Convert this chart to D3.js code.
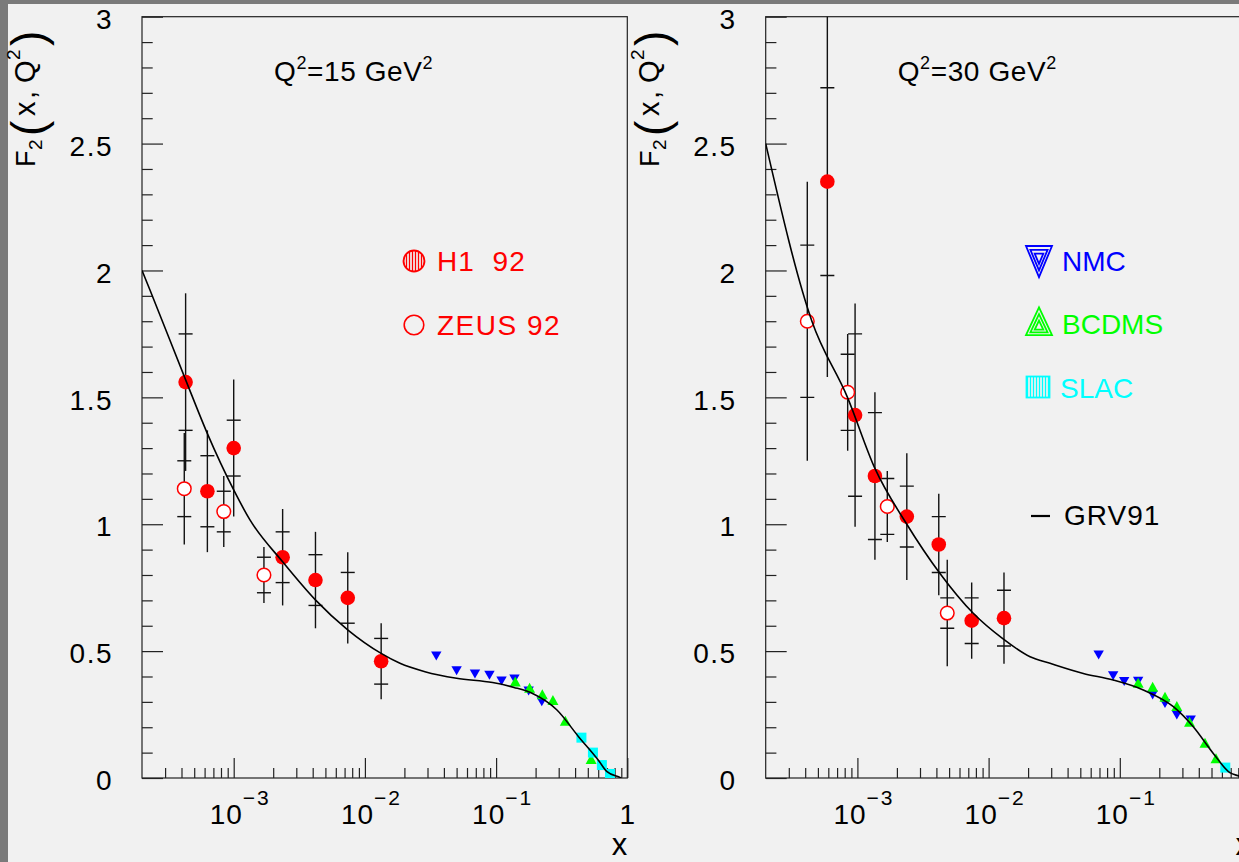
<!DOCTYPE html>
<html>
<head>
<meta charset="utf-8">
<script src="https://cdn.jsdelivr.net/npm/d3@7"></script>
<style>
  html, body { margin: 0; padding: 0; background: #7a7a7a; }
  svg { display: block; }
  text { font-family: "Liberation Sans", Arial, Helvetica, sans-serif; }
</style>
</head>
<body>
<svg id="chart" width="1239" height="862"></svg>
<script>
// ---------------- data ----------------
// Q^2 values of the two panels
const q2Values = ["15", "30"];

// H1 1992: x, F2, statistical error, total error
const h1X15    = [4.3e-4, 6.3e-4, 1.0e-3, 2.36e-3, 4.2e-3, 7.4e-3, 1.33e-2];
const h1F15    = [1.56, 1.13, 1.30, 0.87, 0.78, 0.71, 0.46];
const h1Stat15 = [0.19, 0.14, 0.11, 0.10, 0.10, 0.10, 0.09];
const h1Tot15  = [0.35, 0.24, 0.27, 0.19, 0.19, 0.18, 0.15];

const h1X30    = [5.9e-4, 9.6e-4, 1.36e-3, 2.38e-3, 4.17e-3, 7.43e-3, 1.31e-2];
const h1F30    = [2.35, 1.43, 1.19, 1.03, 0.92, 0.62, 0.63];
const h1Stat30 = [0.37, 0.32, 0.25, 0.12, 0.11, 0.09, 0.11];
const h1Tot30  = [0.77, 0.44, 0.33, 0.25, 0.20, 0.15, 0.18];

// ZEUS 1992
const zeusX15    = [4.2e-4, 8.4e-4, 1.7e-3];
const zeusF15    = [1.14, 1.05, 0.80];
const zeusStat15 = [0.11, 0.08, 0.07];
const zeusTot15  = [0.22, 0.14, 0.11];

const zeusX30    = [4.15e-4, 8.43e-4, 1.69e-3, 4.84e-3];
const zeusF30    = [1.80, 1.52, 1.07, 0.65];
const zeusStat30 = [0.30, 0.15, 0.11, 0.06];
const zeusTot30  = [0.55, 0.23, 0.14, 0.21];

// NMC
const nmcX15 = [0.035, 0.05, 0.069, 0.089, 0.11, 0.138, 0.177, 0.223];
const nmcF15 = [0.481, 0.423, 0.410, 0.405, 0.382, 0.390, 0.343, 0.300];
const nmcX30 = [0.069, 0.089, 0.108, 0.138, 0.178, 0.221, 0.272, 0.347];
const nmcF30 = [0.485, 0.403, 0.380, 0.381, 0.327, 0.294, 0.248, 0.229];

// BCDMS
const bcdmsX15 = [0.14, 0.18, 0.225, 0.271, 0.337, 0.53];
const bcdmsF15 = [0.380, 0.356, 0.330, 0.307, 0.226, 0.075];
const bcdmsX30 = [0.138, 0.178, 0.221, 0.272, 0.34, 0.446, 0.541];
const bcdmsF30 = [0.375, 0.360, 0.320, 0.284, 0.222, 0.139, 0.078];

// SLAC
const slacX15 = [0.447, 0.547, 0.64, 0.738];
const slacF15 = [0.159, 0.100, 0.051, 0.016];
const slacX30 = [0.637];
const slacF30 = [0.041];

// GRV91 parametrisation
const grvX15 = [2e-4, 2.3e-4, 4.31e-4, 6.29e-4, 1e-3, 1.33e-3, 2.36e-3, 4.21e-3, 7.43e-3,
                1.33e-2, 1.85e-2, 2.87e-2, 5e-2, 9.4e-2, 0.137, 0.188, 0.291, 0.425, 0.6, 0.7, 0.873, 0.9];
const grvF15 = [2.0, 1.923, 1.568, 1.358, 1.135, 1.017, 0.852, 0.701, 0.583,
                0.491, 0.452, 0.419, 0.393, 0.376, 0.357, 0.334, 0.268, 0.163, 0.071, 0.025, 0.003, 0.0];
const grvX30 = [2e-4, 4.5e-4, 8.4e-4, 1.36e-3, 2.38e-3, 4.26e-3, 7.64e-3, 1.26e-2, 2.07e-2,
                2.94e-2, 5.27e-2, 8.9e-2, 0.151, 0.256, 0.363, 0.516, 0.69, 0.81, 0.9];
const grvF30 = [2.50, 1.80, 1.50, 1.22, 1.00, 0.806, 0.649, 0.552, 0.478,
                0.452, 0.412, 0.386, 0.347, 0.281, 0.202, 0.097, 0.021, 0.008, 0.0];

// axis ticks
const yMajorTicks = [0, 0.5, 1, 1.5, 2, 2.5, 3];
const yTickLabels = ["0", "0.5", "1", "1.5", "2", "2.5", "3"];
const xMajorTicks = [1e-3, 1e-2, 1e-1, 1];
const xTickExponents = ["\u22123", "\u22122", "\u22121", null];

// ---------------- drawing ----------------
const W = 1239, H = 862;
const svg = d3.select("#chart");
const RED = "#ff0000", BLUE = "#0000ff", GREEN = "#00ff00", CYAN = "#00ffff";
const FRAME = "#222";

svg.append("rect").attr("width", W).attr("height", H).attr("fill", "#7a7a7a");
svg.append("rect").attr("x", 8).attr("y", 4).attr("width", W - 8).attr("height", H - 4).attr("fill", "#f1f1f1");

const defs = svg.append("defs");
function vHatch(id, color) {
  const p = defs.append("pattern").attr("id", id).attr("patternUnits", "userSpaceOnUse")
    .attr("width", 3).attr("height", 3);
  p.append("line").attr("x1", 1.5).attr("x2", 1.5).attr("y1", 0).attr("y2", 3)
    .attr("stroke", color).attr("stroke-width", 1.3);
}
vHatch("hatchRed", RED);
vHatch("hatchCyan", CYAN);

const yTop = 16.7, yBottom = 778;
const y = d3.scaleLinear().domain([0, 3]).range([yBottom, yTop]);

const panels = [
  { left: 142, q2: q2Values[0],
    h1: [h1X15, h1F15, h1Stat15, h1Tot15], zeus: [zeusX15, zeusF15, zeusStat15, zeusTot15],
    nmc: [nmcX15, nmcF15], bcdms: [bcdmsX15, bcdmsF15], slac: [slacX15, slacF15], grv: [grvX15, grvF15] },
  { left: 765.7, q2: q2Values[1],
    h1: [h1X30, h1F30, h1Stat30, h1Tot30], zeus: [zeusX30, zeusF30, zeusStat30, zeusTot30],
    nmc: [nmcX30, nmcF30], bcdms: [bcdmsX30, bcdmsF30], slac: [slacX30, slacF30], grv: [grvX30, grvF30] }
];

const decadePx = 131.2;
const xMin = 2e-4;
const minorX = [];
[1e-4, 1e-3, 1e-2, 1e-1].forEach(d => { for (let m = 2; m <= 9; m++) { const v = m * d; if (v > xMin * 1.01) minorX.push(v); } });
const minorY = d3.range(1, 30).map(i => i / 10).filter(v => Math.abs(v * 2 - Math.round(v * 2)) > 1e-6);

panels.forEach((P, pi) => {
  const right = P.left + decadePx * Math.log10(1 / xMin);
  const x = d3.scaleLog().domain([xMin, 1]).range([P.left, right]);
  const g = svg.append("g");
  const clipId = "clip" + pi;
  defs.append("clipPath").attr("id", clipId).append("rect")
    .attr("x", P.left).attr("y", yTop).attr("width", right - P.left).attr("height", yBottom - yTop);

  // y axis: major and minor ticks pointing inward
  const yAxisMajor = d3.axisLeft(y).tickValues(yMajorTicks).tickSize(-21).tickSizeOuter(0).tickPadding(29)
    .tickFormat((d, i) => yTickLabels[i]);
  const ya = g.append("g").attr("transform", `translate(${P.left},0)`).call(yAxisMajor);
  ya.select(".domain").remove();
  ya.selectAll("line").attr("stroke", FRAME).attr("stroke-width", 1.2);
  ya.selectAll("text").attr("font-size", 28).attr("fill", "#000").attr("dy", "0.42em")
    .attr("font-family", "Liberation Sans, Arial, sans-serif").attr("letter-spacing", 1.5);
  const yMinor = g.append("g").attr("transform", `translate(${P.left},0)`)
    .call(d3.axisLeft(y).tickValues(minorY).tickSize(-10.7).tickSizeOuter(0).tickFormat(""));
  yMinor.select(".domain").remove();
  yMinor.selectAll("line").attr("stroke", FRAME).attr("stroke-width", 1.2);

  // x axis
  const xa = g.append("g").attr("transform", `translate(0,${yBottom})`)
    .call(d3.axisBottom(x).tickValues(xMajorTicks).tickSize(-20).tickSizeOuter(0).tickFormat(""));
  xa.select(".domain").remove();
  xa.selectAll("line").attr("stroke", FRAME).attr("stroke-width", 1.2);
  const xm = g.append("g").attr("transform", `translate(0,${yBottom})`)
    .call(d3.axisBottom(x).tickValues(minorX).tickSize(-10).tickSizeOuter(0).tickFormat(""));
  xm.select(".domain").remove();
  xm.selectAll("line").attr("stroke", FRAME).attr("stroke-width", 1.2);

  xMajorTicks.forEach((v, i) => {
    if (x(v) + 10 > W) return; // label would fall outside the canvas
    const exp = xTickExponents[i];
    if (exp === null) {
      g.append("text").attr("x", x(v)).attr("y", 824).attr("text-anchor", "middle")
        .attr("font-size", 28).text("1");
    } else {
      const t = g.append("text").attr("x", x(v) - 24).attr("y", 824).attr("font-size", 28);
      t.append("tspan").text("10").attr("letter-spacing", 1);
      t.append("tspan").attr("dy", -19).attr("font-size", 21).attr("letter-spacing", 2).text(exp);
    }
  });

  // x axis title
  g.append("text").attr("x", right).attr("y", 855).attr("text-anchor", "end")
    .attr("font-size", 31).text("x");

  // frame
  g.append("rect").attr("x", P.left).attr("y", yTop).attr("width", right - P.left).attr("height", yBottom - yTop)
    .attr("fill", "none").attr("stroke", FRAME).attr("stroke-width", 1.2);

  // y axis title: F2(x,Q2), rotated
  const yt = g.append("g").attr("transform", `translate(${P.left - 107},167) rotate(-90)`);
  yt.append("text").attr("x", 0).attr("y", 0).attr("font-size", 27).text("F");
  yt.append("text").attr("x", 17).attr("y", 7).attr("font-size", 19).text("2");
  yt.append("text").attr("x", 31).attr("y", 9).attr("font-size", 46).text("(");
  yt.append("text").attr("x", 51).attr("y", 0).attr("font-size", 29).text("x");
  yt.append("text").attr("x", 68).attr("y", 0).attr("font-size", 29).text(",");
  yt.append("text").attr("x", 84).attr("y", 0).attr("font-size", 29).text("Q");
  yt.append("text").attr("x", 107).attr("y", -15).attr("font-size", 19).text("2");
  yt.append("text").attr("x", 121).attr("y", 9).attr("font-size", 46).text(")");

  // panel title
  const tt = g.append("text").attr("x", P.left + 132).attr("y", 81).attr("font-size", 28).attr("letter-spacing", 0.6);
  tt.append("tspan").text("Q");
  tt.append("tspan").attr("dy", -12).attr("font-size", 18).text("2");
  tt.append("tspan").attr("dy", 12).text("=" + P.q2 + " GeV");
  tt.append("tspan").attr("dy", -12).attr("font-size", 18).text("2");

  const plot = g.append("g").attr("clip-path", `url(#${clipId})`);

  // error bars: total error as the line, statistical error marked by short ticks
  function errorBars(arr) {
    const [xs, fs, st, tot] = arr;
    xs.forEach((xv, i) => {
      const cx = x(xv);
      plot.append("line").attr("x1", cx).attr("x2", cx)
        .attr("y1", y(fs[i] + tot[i])).attr("y2", y(fs[i] - tot[i]))
        .attr("stroke", "#111").attr("stroke-width", 1.4);
      [fs[i] + st[i], fs[i] - st[i]].forEach(v => {
        plot.append("line").attr("x1", cx - 7).attr("x2", cx + 7).attr("y1", y(v)).attr("y2", y(v))
          .attr("stroke", "#111").attr("stroke-width", 1.4);
      });
    });
  }
  errorBars(P.zeus);
  errorBars(P.h1);

  // ZEUS open circles
  P.zeus[0].forEach((xv, i) => {
    plot.append("circle").attr("cx", x(xv)).attr("cy", y(P.zeus[1][i])).attr("r", 6.8)
      .attr("fill", "#ffffff").attr("stroke", RED).attr("stroke-width", 1.5);
  });
  // H1 filled circles
  P.h1[0].forEach((xv, i) => {
    plot.append("circle").attr("cx", x(xv)).attr("cy", y(P.h1[1][i])).attr("r", 7.3).attr("fill", RED);
  });

  // fixed-target data
  const tri = 5.2;
  P.nmc[0].forEach((xv, i) => {
    const cx = x(xv), cy = y(P.nmc[1][i]);
    plot.append("path").attr("d", `M${cx - tri},${cy - 4.5}L${cx + tri},${cy - 4.5}L${cx},${cy + 4.5}Z`).attr("fill", BLUE);
  });
  P.bcdms[0].forEach((xv, i) => {
    const cx = x(xv), cy = y(P.bcdms[1][i]);
    plot.append("path").attr("d", `M${cx - 5.5},${cy + 5}L${cx + 5.5},${cy + 5}L${cx},${cy - 5}Z`).attr("fill", GREEN);
  });
  P.slac[0].forEach((xv, i) => {
    const cx = x(xv), cy = y(P.slac[1][i]);
    plot.append("rect").attr("x", cx - 5).attr("y", cy - 5).attr("width", 10).attr("height", 10).attr("fill", CYAN);
  });

  // GRV91 curve
  const line = d3.line().x(d => x(d[0])).y(d => y(d[1])).curve(d3.curveMonotoneX);
  plot.append("path").datum(d3.zip(P.grv[0], P.grv[1])).attr("d", line)
    .attr("fill", "none").attr("stroke", "#000").attr("stroke-width", 1.6);
});

// ---------------- legends ----------------
const lg = svg.append("g");
// H1 92
lg.append("circle").attr("cx", 414).attr("cy", 261).attr("r", 10.5)
  .attr("fill", "url(#hatchRed)").attr("stroke", RED).attr("stroke-width", 1.8);
lg.append("text").attr("x", 437).attr("y", 271).attr("font-size", 28).attr("fill", RED)
  .attr("letter-spacing", 1).attr("word-spacing", 9).text("H1 92");
// ZEUS 92
lg.append("circle").attr("cx", 414).attr("cy", 325).attr("r", 9.8)
  .attr("fill", "none").attr("stroke", RED).attr("stroke-width", 1.6);
lg.append("text").attr("x", 437).attr("y", 335).attr("font-size", 28).attr("fill", RED)
  .attr("letter-spacing", 1.5).text("ZEUS 92");

// NMC: nested down-triangles
[1, 0.66, 0.33].forEach(s => {
  const cx = 1039, cy = 257.5, w = 13 * s, h = 11.5 * s;
  lg.append("path").attr("d", `M${cx - w},${cy - h}L${cx + w},${cy - h}L${cx},${cy + 2 * h * 0.85}Z`)
    .attr("fill", "none").attr("stroke", BLUE).attr("stroke-width", 1.8);
});
lg.append("text").attr("x", 1062).attr("y", 271).attr("font-size", 28).attr("fill", BLUE).text("NMC");
// BCDMS: nested up-triangles
[1, 0.66, 0.33].forEach(s => {
  const cx = 1039, cy = 327, w = 13 * s, h = 11.5 * s;
  lg.append("path").attr("d", `M${cx - w},${cy + h * 0.7}L${cx + w},${cy + h * 0.7}L${cx},${cy - 2 * h * 0.85}Z`)
    .attr("fill", "none").attr("stroke", GREEN).attr("stroke-width", 1.8);
});
lg.append("text").attr("x", 1062).attr("y", 334).attr("font-size", 28).attr("fill", GREEN).text("BCDMS");
// SLAC: hatched square
lg.append("rect").attr("x", 1026.5).attr("y", 376.5).attr("width", 23).attr("height", 21)
  .attr("fill", "url(#hatchCyan)").attr("stroke", CYAN).attr("stroke-width", 1.8);
lg.append("text").attr("x", 1060).attr("y", 398).attr("font-size", 28).attr("fill", CYAN).text("SLAC");
// GRV91
lg.append("line").attr("x1", 1031).attr("x2", 1050).attr("y1", 516).attr("y2", 516)
  .attr("stroke", "#000").attr("stroke-width", 2.2);
lg.append("text").attr("x", 1064).attr("y", 525).attr("font-size", 28).attr("fill", "#000").attr("letter-spacing", 1).text("GRV91");
</script>
</body>
</html>
